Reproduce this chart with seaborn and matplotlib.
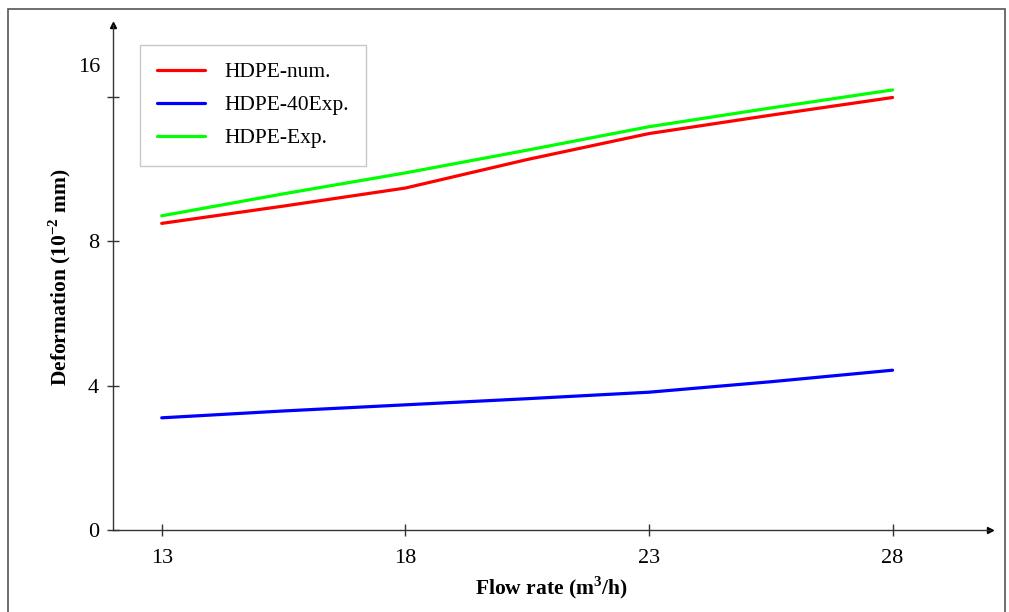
import matplotlib
matplotlib.use("Agg")
import matplotlib.pyplot as plt
import matplotlib.transforms as mtransforms
from matplotlib.patches import Rectangle
import seaborn as sns
import pandas as pd

# ---- data ----
flow_rate = [13, 15.5, 18, 20.5, 23, 25.5, 28]
hdpe_num = [8.50, 8.98, 9.48, 10.27, 10.99, 11.50, 11.99]
hdpe_40exp = [3.11, 3.30, 3.47, 3.64, 3.82, 4.11, 4.43]
hdpe_exp = [8.71, 9.32, 9.90, 10.53, 11.18, 11.70, 12.20]
series_names = ["HDPE-num.", "HDPE-40Exp.", "HDPE-Exp."]
series_colors = ["#ff0000", "#0000ff", "#00ff00"]
x_ticks = [13, 18, 23, 28]
y_ticks = [0, 4, 8, 12]
y_tick_labels = ["0", "4", "8", ""]
top_label = "16"
top_label_pos = 12.83

df = pd.DataFrame({
    "Flow rate": flow_rate * 3,
    "Deformation": hdpe_num + hdpe_40exp + hdpe_exp,
    "Series": sum([[n] * len(flow_rate) for n in series_names], []),
})

sns.set_style("white")
plt.rcParams["font.family"] = ["Liberation Serif", "DejaVu Serif"]
plt.rcParams["mathtext.fontset"] = "custom"
plt.rcParams["mathtext.rm"] = "Liberation Serif"
plt.rcParams["mathtext.bf"] = "Liberation Serif:bold"
plt.rcParams["text.color"] = "black"
plt.rcParams["axes.labelcolor"] = "black"
plt.rcParams["xtick.color"] = "black"
plt.rcParams["ytick.color"] = "black"

fig = plt.figure(figsize=(10.09, 6.12), dpi=100)
ax = fig.add_axes([113 / 1009, 1 - 530 / 612, (990 - 113) / 1009, (530 - 25) / 612])

sns.lineplot(data=df, x="Flow rate", y="Deformation", hue="Series",
             palette=dict(zip(series_names, series_colors)), hue_order=series_names,
             linewidth=2.3, ax=ax, legend=True)

ax.set_xlim(12, 30)
ax.set_ylim(0, 14)
ax.set_xticks(x_ticks)
ax.set_xticklabels([str(v) for v in x_ticks])
ax.set_yticks(y_ticks)
ax.set_yticklabels(y_tick_labels)

axis_color = "#333333"
for s in ["top", "right"]:
    ax.spines[s].set_visible(False)
for s in ["left", "bottom"]:
    ax.spines[s].set_color(axis_color)
    ax.spines[s].set_linewidth(1.0)

ax.tick_params(axis="both", direction="inout", length=8, width=1.0,
               color=axis_color, labelsize=16, left=True, bottom=True)
ax.tick_params(axis="x", pad=10)
ax.tick_params(axis="y", pad=6)

# arrows at axis ends
ax.plot(1, 0, ">", color="black", markersize=5, transform=ax.transAxes, clip_on=False)
ax.plot(0, 1, "^", color="black", markersize=5, transform=ax.transAxes, clip_on=False)

# misplaced "16" label
trans = mtransforms.blended_transform_factory(ax.transAxes, ax.transData)
ax.annotate(top_label, xy=(0, top_label_pos), xycoords=trans,
            xytext=(-9, 0), textcoords="offset points",
            ha="right", va="center", fontsize=16)

ax.set_xlabel(r"Flow rate (m$^{\mathbf{3}}$/h)", fontsize=15.5, fontweight="bold", labelpad=4)
ax.set_ylabel(r"Deformation (10$^{\mathbf{-2}}$ mm)", fontsize=15.5, fontweight="bold", labelpad=11)

leg = ax.legend(loc="upper left", bbox_to_anchor=(0.031, 0.96), borderaxespad=0,
                fontsize=15.5, frameon=True, fancybox=False, edgecolor="#bbbbbb",
                handlelength=2.2, handletextpad=0.9, borderpad=0.8, labelspacing=0.6,
                title=None)
leg.get_frame().set_linewidth(1.0)

# outer frame
fig.patches.append(Rectangle((8 / 1009, -0.01), (1005 - 8) / 1009, 1 - 9 / 612 + 0.01,
                             transform=fig.transFigure, fill=False,
                             edgecolor="#555555", linewidth=1.2))

fig.savefig("out.png", dpi=100)
